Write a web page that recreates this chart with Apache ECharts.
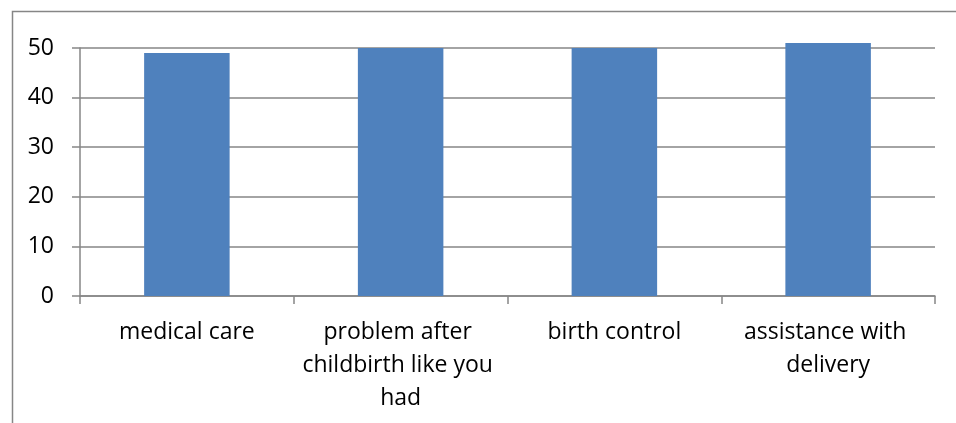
<!DOCTYPE html>
<html>
<head>
<meta charset="utf-8">
<script src="https://cdn.jsdelivr.net/npm/echarts@6/dist/echarts.min.js"></script>
<style>
  html, body { margin: 0; padding: 0; background: #fff; }
  #chart { width: 956px; height: 423px; }
</style>
</head>
<body>
<div id="chart"></div>
<script>
// Categories and values for the bar chart
const categories = ['medical care', 'problem after childbirth like you had', 'birth control', 'assistance with delivery'];
const values = [49, 50, 50, 51];
const yTicks = { min: 0, max: 50, interval: 10 };

const chart = echarts.init(document.getElementById('chart'));
const axisGrey = '#868686';
const font = '"Open Sans"';

chart.setOption({
  animation: false,
  graphic: [{
    type: 'rect',
    left: 10, top: 9,
    shape: { width: 980, height: 440 },
    style: { fill: 'none', stroke: axisGrey, lineWidth: 1.5 },
    silent: true
  }],
  grid: { left: 80, right: 21, top: 48, bottom: 127, containLabel: false },
  xAxis: {
    type: 'category',
    data: categories,
    axisLine: { lineStyle: { color: axisGrey, width: 1.5 } },
    axisTick: { show: true, length: 8, lineStyle: { color: axisGrey, width: 1.5 } },
    axisLabel: {
      interval: 0,
      color: '#000',
      fontFamily: font,
      fontSize: 23,
      lineHeight: 33,
      margin: 20,
      width: 205,
      overflow: 'break',
      align: 'center'
    }
  },
  yAxis: {
    type: 'value',
    min: yTicks.min, max: yTicks.max, interval: yTicks.interval,
    axisLine: { show: true, lineStyle: { color: axisGrey, width: 1.5 } },
    axisTick: { show: true, length: 8, lineStyle: { color: axisGrey, width: 1.5 } },
    splitLine: { lineStyle: { color: axisGrey, width: 1.5 } },
    axisLabel: { color: '#000', fontFamily: font, fontSize: 23, margin: 26 }
  },
  series: [{
    type: 'bar',
    data: values,
    barWidth: '40%',
    clip: false,
    itemStyle: { color: '#4F81BD' }
  }]
});
</script>
</body>
</html>
